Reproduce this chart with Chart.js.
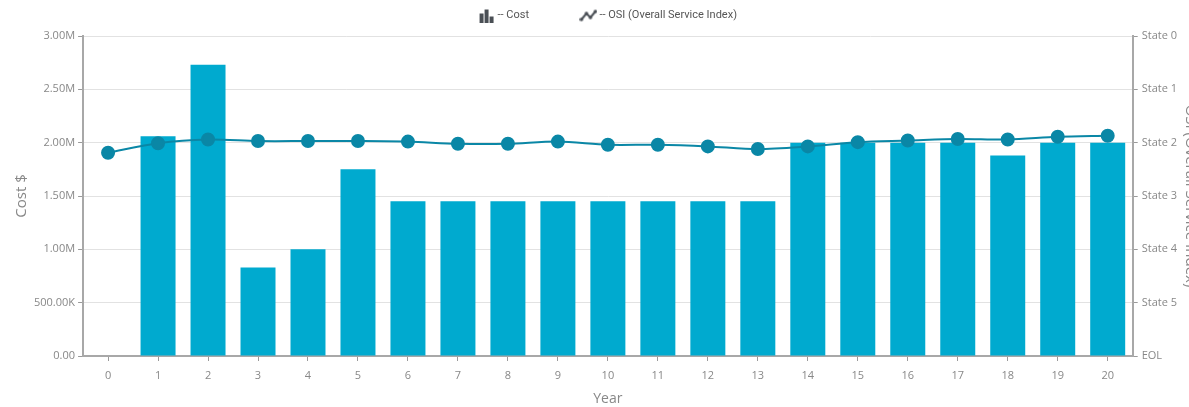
<!DOCTYPE html>
<html>
<head>
<meta charset="utf-8">
<script src="https://cdn.jsdelivr.net/npm/chart.js@4"></script>
<style>
  html, body { margin: 0; padding: 0; overflow: hidden; background: #fff; }
  #wrap { width: 1205px; height: 407px; }
</style>
</head>
<body>
<div id="wrap"><canvas id="combo"></canvas></div>
<script>
// chart values
const years = ['0','1','2','3','4','5','6','7','8','9','10','11','12','13','14','15','16','17','18','19','20'];
const costValues = [0, 2060000, 2730000, 830000, 1000000, 1750000, 1450000, 1450000, 1450000, 1450000, 1450000,
                    1450000, 1450000, 1450000, 2000000, 2000000, 2000000, 2000000, 1880000, 2000000, 2000000];
const osiValues = [2.19, 2.01, 1.94, 1.97, 1.97, 1.97, 1.98, 2.02, 2.02, 1.98, 2.04,
                   2.04, 2.07, 2.12, 2.07, 1.99, 1.96, 1.93, 1.94, 1.89, 1.87];
const stateLabels = ['State 0', 'State 1', 'State 2', 'State 3', 'State 4', 'State 5', 'EOL'];

// little legend icons
function barIcon() {
    const c = document.createElement('canvas');
    c.width = 16; c.height = 14;
    const g = c.getContext('2d');
    g.fillStyle = '#4a4f55';
    g.fillRect(1, 5, 4, 9);
    g.fillRect(6, 1, 4, 13);
    g.fillRect(11, 8, 4, 6);
    return c;
}
function lineIcon() {
    const c = document.createElement('canvas');
    c.width = 18; c.height = 14;
    const g = c.getContext('2d');
    g.strokeStyle = '#4a4f55';
    g.fillStyle = '#4a4f55';
    g.lineWidth = 2;
    const pts = [[2, 11], [7, 5], [11, 9], [16, 3]];
    g.beginPath();
    pts.forEach((p, i) => i ? g.lineTo(p[0], p[1]) : g.moveTo(p[0], p[1]));
    g.stroke();
    pts.forEach(p => { g.beginPath(); g.arc(p[0], p[1], 1.8, 0, Math.PI * 2); g.fill(); });
    return c;
}
const icons = [barIcon(), lineIcon()];

function fmtCost(v) {
    if (v === 0) return '0.00';
    if (v >= 1000000) return (v / 1000000).toFixed(2) + 'M';
    return (v / 1000).toFixed(2) + 'K';
}

const tickFont = { family: '"Open Sans", "Noto Sans", sans-serif', size: 11 };
const titleFont = { family: '"Open Sans", "Noto Sans", sans-serif', size: 15 };

// a few extra pixels under the legend
const legendGap = {
    id: 'legendGap',
    beforeInit(chart) {
        const fit = chart.legend.fit;
        chart.legend.fit = function () {
            fit.call(this);
            this.height += 5;
        };
    }
};

new Chart(document.getElementById('combo'), {
    data: {
        labels: years,
        datasets: [
            {
                type: 'line',
                label: '-- OSI (Overall Service Index)',
                data: osiValues,
                yAxisID: 'y1',
                borderColor: '#0a87a6',
                backgroundColor: '#0a87a6',
                borderWidth: 2,
                pointRadius: 6,
                pointHoverRadius: 6,
                tension: 0.3,
                order: 0
            },
            {
                type: 'bar',
                label: '-- Cost',
                data: costValues,
                yAxisID: 'y',
                backgroundColor: '#00aacf',
                borderWidth: 0,
                categoryPercentage: 1,
                barPercentage: 0.7,
                order: 1
            }
        ]
    },
    plugins: [legendGap],
    options: {
        responsive: true,
        maintainAspectRatio: false,
        animation: false,
        layout: { padding: { left: 13, right: 0, top: 1, bottom: 0 } },
        scales: {
            x: {
                offset: true,
                grid: { offset: false, drawOnChartArea: false, tickLength: 5, color: '#9a9a9a' },
                border: { color: '#a8a8a8', width: 2 },
                ticks: { color: '#888', font: tickFont, padding: 8 },
                title: { display: true, text: 'Year', color: '#888', font: { family: titleFont.family, size: 14 }, padding: { top: 0, bottom: 0 } }
            },
            y: {
                position: 'left',
                min: 0,
                max: 3000000,
                grid: { color: '#e2e2e2', tickLength: 5, tickColor: '#9a9a9a' },
                border: { color: '#a8a8a8', width: 2 },
                ticks: { stepSize: 500000, color: '#888', font: tickFont, padding: 3, callback: v => fmtCost(v) },
                title: { display: true, text: 'Cost $', color: '#888', font: titleFont, padding: { top: 0, bottom: 0 } }
            },
            y1: {
                position: 'right',
                min: 0,
                max: 6,
                reverse: true,
                grid: { drawOnChartArea: false, tickLength: 5, color: '#9a9a9a' },
                border: { color: '#a8a8a8', width: 2 },
                ticks: { stepSize: 1, color: '#888', font: tickFont, padding: 4, callback: v => stateLabels[v] },
                title: { display: true, text: 'OSI (Overall Service Index)', color: '#888', font: titleFont, padding: { top: 6, bottom: 0 } }
            }
        },
        plugins: {
            tooltip: { enabled: false },
            legend: {
                position: 'top',
                align: 'center',
                labels: {
                    usePointStyle: true,
                    padding: 9,
                    color: '#555',
                    font: { family: 'Roboto, sans-serif', size: 11 },
                    generateLabels: chart => {
                        const ds = chart.data.datasets;
                        return [1, 0].map((i, k) => ({
                            // em spaces after the first entry widen the gap between the two items
                            text: k === 0 ? ds[i].label + '\u2003\u2003\u2003\u2003' : ds[i].label,
                            pointStyle: icons[k],
                            fillStyle: '#4a4f55',
                            strokeStyle: '#4a4f55',
                            lineWidth: 0,
                            datasetIndex: i,
                            fontColor: '#555'
                        }));
                    }
                }
            }
        }
    }
});
</script>
</body>
</html>
